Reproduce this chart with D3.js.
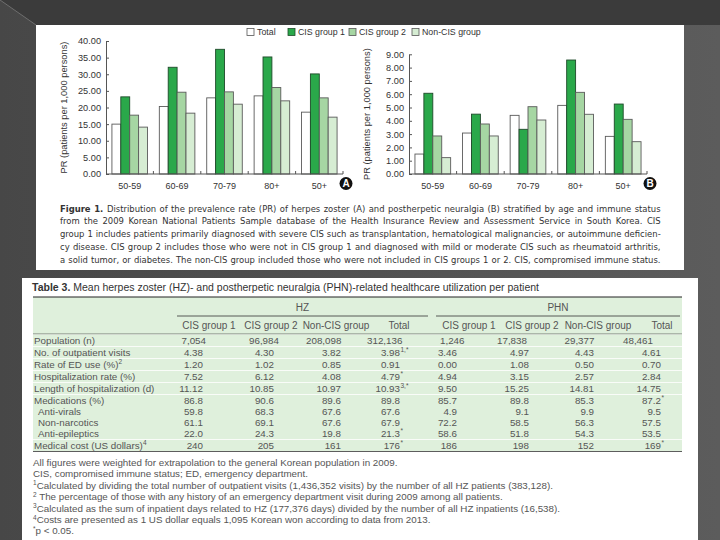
<!DOCTYPE html>
<html><head><meta charset="utf-8">
<script src="https://cdn.jsdelivr.net/npm/d3@7"></script>
<style>body{margin:0;background:#4a4a4a;} svg{display:block}</style>
</head><body>
<svg id="c" width="720" height="540"></svg>
<script>
// ---------- DATA ----------
const ageGroups = ["50-59", "60-69", "70-79", "80+", "50+"];
const seriesNames = ["Total", "CIS group 1", "CIS group 2", "Non-CIS group"];
const seriesColors = ["#ffffff", "#2aa84a", "#a6d6a3", "#d6edd3"];
// Panel A: herpes zoster PR
const hzTotal  = [15.0, 20.3, 22.9, 23.5, 18.6];
const hzCIS1   = [23.2, 32.1, 37.5, 35.2, 30.1];
const hzCIS2   = [17.7, 24.6, 24.7, 26.0, 22.9];
const hzNonCIS = [14.1, 18.3, 21.0, 22.0, 17.1];
// Panel B: postherpetic neuralgia PR
const phnTotal  = [1.50, 3.08, 4.41, 5.16, 2.83];
const phnCIS1   = [6.07, 4.50, 3.36, 8.57, 5.26];
const phnCIS2   = [2.86, 3.76, 5.06, 6.14, 4.11];
const phnNonCIS = [1.23, 2.86, 4.06, 4.49, 2.43];
const hzTicks  = [0, 5, 10, 15, 20, 25, 30, 35, 40];
const phnTicks = [0, 1, 2, 3, 4, 5, 6, 7, 8, 9];
const yLabel = "PR (patients per 1,000 persons)";

const captionLines = [
  "Distribution of the prevalence rate (PR) of herpes zoster (A) and postherpetic neuralgia (B) stratified by age and immune status",
  "from the 2009 Korean National Patients Sample database of the Health Insurance Review and Assessment Service in South Korea. CIS",
  "group 1 includes patients primarily diagnosed with severe CIS such as transplantation, hematological malignancies, or autoimmune deficien-",
  "cy disease. CIS group 2 includes those who were not in CIS group 1 and diagnosed with mild or moderate CIS such as rheumatoid arthritis,",
  "a solid tumor, or diabetes. The non-CIS group included those who were not included in CIS groups 1 or 2. CIS, compromised immune status."
];

// Table 3
const tableGroups = ["HZ", "PHN"];
const tableCols = ["CIS group 1", "CIS group 2", "Non-CIS group", "Total", "CIS group 1", "CIS group 2", "Non-CIS group", "Total"];
const rowLabels = ["Population (n)", "No. of outpatient visits", "Rate of ED use (%)", "Hospitalization rate (%)",
  "Length of hospitalization (d)", "Medications (%)", "Anti-virals", "Non-narcotics", "Anti-epileptics", "Medical cost (US dollars)"];
const rowLabelSup = ["", "", "2", "", "", "", "", "", "", "4"];
const rowIndent = [0, 0, 0, 0, 0, 0, 1, 1, 1, 0];
const rowPopulation   = ["7,054", "96,984", "208,098", "312,136", "1,246", "17,838", "29,377", "48,461"];
const rowOutpatient   = ["4.38", "4.30", "3.82", "3.98", "3.46", "4.97", "4.43", "4.61"];
const rowED           = ["1.20", "1.02", "0.85", "0.91", "0.00", "1.08", "0.50", "0.70"];
const rowHosp         = ["7.52", "6.12", "4.08", "4.79", "4.94", "3.15", "2.57", "2.84"];
const rowLength       = ["11.12", "10.85", "10.97", "10.93", "9.50", "15.25", "14.81", "14.75"];
const rowMedications  = ["86.8", "90.6", "89.6", "89.8", "85.7", "89.8", "85.3", "87.2"];
const rowAntivirals   = ["59.8", "68.3", "67.6", "67.6", "4.9", "9.1", "9.9", "9.5"];
const rowNonnarcotics = ["61.1", "69.1", "67.6", "67.9", "72.2", "58.5", "56.3", "57.5"];
const rowAntiepileptic= ["22.0", "24.3", "19.8", "21.3", "58.6", "51.8", "54.3", "53.5"];
const rowCost         = ["240", "205", "161", "176", "186", "198", "152", "169"];
const cellSup = { "1,3": "1,*", "3,3": "*", "4,3": "3,*", "5,7": "*", "8,3": "*", "9,3": "*", "9,7": "*" };
const footnotes = [
  ["", "All figures were weighted for extrapolation to the general Korean population in 2009."],
  ["", "CIS, compromised immune status; ED, emergency department."],
  ["1", "Calculated by dividing the total number of outpatient visits (1,436,352 visits) by the number of all HZ patients (383,128)."],
  ["2", " The percentage of those with any history of an emergency department visit during 2009 among all patients."],
  ["3", "Calculated as the sum of inpatient days related to HZ (177,376 days) divided by the number of all HZ inpatients (16,538)."],
  ["4", "Costs are presented as 1 US dollar equals 1,095 Korean won according to data from 2013."],
  ["*", "p < 0.05."]
];

// ---------- DRAW ----------
const svg = d3.select("#c");
const FONT = "'Liberation Sans', Arial, Helvetica, sans-serif";
const CFONT = "'Liberation Sans Narrow', 'DejaVu Sans Condensed', 'Liberation Sans', Arial, sans-serif";

// slide background
const defs = svg.append("defs");
const bg = defs.append("linearGradient").attr("id", "bg").attr("x1", 0).attr("x2", 1).attr("y1", 0).attr("y2", 0);
bg.append("stop").attr("offset", 0).attr("stop-color", "#474747");
bg.append("stop").attr("offset", 1).attr("stop-color", "#5c5c5c");
svg.append("rect").attr("width", 720).attr("height", 540).attr("fill", "url(#bg)");
svg.append("path").attr("d", "M0,0 L720,0 L720,25 L36,25 Z").attr("fill", "#3b3b3b");
svg.append("line").attr("x1", 0).attr("y1", 0).attr("x2", 36).attr("y2", 25).attr("stroke", "#6e6e6e").attr("stroke-width", 1);

// panels
svg.append("rect").attr("x", 36).attr("y", 25).attr("width", 648).attr("height", 245).attr("fill", "#fff");
svg.append("rect").attr("x", 22).attr("y", 278).attr("width", 676).attr("height", 262).attr("fill", "#fff");

function drawPanel(opts) {
  const g = svg.append("g");
  const x = d3.scaleBand().domain(ageGroups).range([opts.x0, opts.x1]).paddingInner(0.25).paddingOuter(0.125);
  const xi = d3.scaleBand().domain(seriesNames).range([0, x.bandwidth()]);
  const y = d3.scaleLinear().domain([0, opts.max]).range([174, opts.yTop]);
  const series = opts.series;
  seriesNames.forEach((s, si) => {
    g.selectAll(null).data(series[si]).join("rect")
      .attr("x", (d, i) => x(ageGroups[i]) + xi(s))
      .attr("y", d => y(d))
      .attr("width", xi.bandwidth())
      .attr("height", d => y(0) - y(d))
      .attr("fill", seriesColors[si])
      .attr("stroke", si === 1 ? "#1f4a2a" : "#5a5a5a")
      .attr("stroke-width", 0.9);
  });
  const ay = g.append("g").attr("transform", `translate(${opts.x0},0)`)
    .call(d3.axisLeft(y).tickValues(opts.ticks).tickFormat(d3.format(".2f")).tickSizeInner(-3).tickSizeOuter(0).tickPadding(5));
  ay.select(".domain").attr("stroke", "#555");
  ay.selectAll(".tick line").attr("stroke", "#555");
  ay.selectAll("text").attr("font-family", FONT).attr("font-size", 9.2).attr("fill", "#333");
  g.append("line").attr("x1", opts.x0).attr("x2", opts.x1).attr("y1", y(0)).attr("y2", y(0)).attr("stroke", "#555");
  ageGroups.forEach((a, i) => {
    const tx = x(a) + x.bandwidth() + x.step() * x.paddingInner() / 2;
    g.append("line").attr("x1", tx).attr("x2", tx).attr("y1", y(0)).attr("y2", y(0) - 3).attr("stroke", "#555");
    g.append("text").attr("x", x(a) + x.bandwidth() / 2).attr("y", 189).attr("text-anchor", "middle")
      .attr("font-family", FONT).attr("font-size", 9).attr("fill", "#333").text(a);
  });
  g.append("text").attr("transform", `translate(${opts.labelX},${(y(0) + y(opts.max)) / 2}) rotate(-90)`)
    .attr("text-anchor", "middle").attr("font-family", FONT).attr("font-size", 9.3).attr("fill", "#333").text(yLabel);
  g.append("circle").attr("cx", opts.x1 + 3).attr("cy", 183.5).attr("r", 6.5).attr("fill", "#111");
  g.append("text").attr("x", opts.x1 + 3).attr("y", 187.3).attr("text-anchor", "middle").attr("font-family", FONT)
    .attr("font-weight", "bold").attr("font-size", 10).attr("fill", "#fff").text(opts.letter);
}
drawPanel({ x0: 106, x1: 343, yTop: 41, max: 40, ticks: hzTicks, series: [hzTotal, hzCIS1, hzCIS2, hzNonCIS], labelX: 67, letter: "A" });
drawPanel({ x0: 409, x1: 647, yTop: 54.3, max: 9, ticks: phnTicks, series: [phnTotal, phnCIS1, phnCIS2, phnNonCIS], labelX: 370, letter: "B" });

// legend
const legX = [247, 288, 349, 412];
seriesNames.forEach((s, i) => {
  svg.append("rect").attr("x", legX[i]).attr("y", 28.5).attr("width", 7).attr("height", 7)
    .attr("fill", seriesColors[i]).attr("stroke", i === 1 ? "#1f4a2a" : "#555").attr("stroke-width", 0.8);
  svg.append("text").attr("x", legX[i] + 10).attr("y", 35.3).attr("font-family", FONT).attr("font-size", 8.8)
    .attr("fill", "#333").text(s);
});

// caption: one common font size, each line justified by word-spacing
const capW = 601;
const capTexts = captionLines.map((ln, i) => {
  const t = svg.append("text").attr("x", 60).attr("y", 211.5 + i * 12.8).attr("font-family", CFONT).attr("font-size", 11)
    .attr("fill", "#333");
  if (i === 0) t.append("tspan").attr("font-weight", "bold").text("Figure 1. ");
  t.append("tspan").text(ln);
  return t;
});
const maxW = d3.max(capTexts, t => t.node().getComputedTextLength());
const capFs = maxW > capW ? 11 * capW / maxW - 0.05 : 11;
capTexts.forEach((t, i) => {
  t.attr("font-size", capFs);
  const w = t.node().getComputedTextLength();
  const full = (i === 0 ? "Figure 1. " : "") + captionLines[i];
  const spaces = (full.match(/ /g) || []).length;
  if (spaces && w < capW) t.attr("word-spacing", ((capW - w) / spaces) - 0.02);
});

// table
const TF = FONT;
const tcol = "#555";
svg.append("text").attr("x", 32).attr("y", 291).attr("font-family", TF).attr("font-size", 10.5).attr("fill", "#333")
  .call(t => { t.append("tspan").attr("font-weight", "bold").text("Table 3. "); t.append("tspan").text("Mean herpes zoster (HZ)- and postherpetic neuralgia (PHN)-related healthcare utilization per patient"); });
const tL = 33, tR = 682;
const green = "#dff0dc";
svg.append("rect").attr("x", tL).attr("y", 297).attr("width", tR - tL).attr("height", 37).attr("fill", green);
svg.append("line").attr("x1", tL).attr("x2", tR).attr("y1", 297).attr("y2", 297).attr("stroke", "#222").attr("stroke-width", 1);
const groupSpan = [[177, 428], [436, 680]];
tableGroups.forEach((gname, i) => {
  const [a, b] = groupSpan[i];
  svg.append("text").attr("x", (a + b) / 2).attr("y", 311).attr("text-anchor", "middle").attr("font-family", TF)
    .attr("font-size", 10).attr("fill", tcol).text(gname);
  svg.append("line").attr("x1", a).attr("x2", b).attr("y1", 316).attr("y2", 316).attr("stroke", "#333").attr("stroke-width", 0.8);
});
const colCenter = [209, 271, 336, 399, 469, 532, 598, 662];
const colRight = [203, 274, 341, 400, 457, 529, 594, 661];
const colLeft = [181.5, 249, 306, 367, 440, 497, 564.5, 623];
tableCols.forEach((c, i) => {
  svg.append("text").attr("x", colCenter[i]).attr("y", 329).attr("text-anchor", "middle").attr("font-family", TF)
    .attr("font-size", 10).attr("fill", tcol).text(c);
});
svg.append("line").attr("x1", tL).attr("x2", tR).attr("y1", 334).attr("y2", 334).attr("stroke", "#333").attr("stroke-width", 0.6);

const rows = [rowPopulation, rowOutpatient, rowED, rowHosp, rowLength, rowMedications, rowAntivirals, rowNonnarcotics, rowAntiepileptic, rowCost];
const rowY = [340, 352, 364, 376, 388, 400, 411, 422, 433, 445];
const rowBands = [[334.5, 346], [346.8, 358], [358.8, 370], [370.8, 382], [382.8, 394], [394.8, 439], [439.8, 451]];
rowBands.forEach(([a, b]) => svg.append("rect").attr("x", tL).attr("y", a).attr("width", tR - tL).attr("height", b - a).attr("fill", green));
svg.append("line").attr("x1", tL).attr("x2", tR).attr("y1", 451.5).attr("y2", 451.5).attr("stroke", "#333").attr("stroke-width", 0.8);

rows.forEach((vals, r) => {
  const yy = rowY[r] + 3.5;
  const lt = svg.append("text").attr("x", 34 + rowIndent[r] * 4).attr("y", yy).attr("font-family", TF).attr("font-size", 9.8).attr("fill", tcol).text(rowLabels[r]);
  if (rowLabelSup[r]) lt.append("tspan").attr("dy", -3.5).attr("font-size", 6.5).text(rowLabelSup[r]);
  vals.forEach((v, c) => {
    if (r === 0) {
      svg.append("text").attr("x", colLeft[c]).attr("y", yy).attr("font-family", TF).attr("font-size", 9.8).attr("fill", tcol).text(v);
    } else {
      svg.append("text").attr("x", colRight[c]).attr("y", yy).attr("text-anchor", "end").attr("font-family", TF).attr("font-size", 9.8).attr("fill", tcol).text(v);
      const sup = cellSup[r + "," + c];
      if (sup) svg.append("text").attr("x", colRight[c] + 0.5).attr("y", yy - 3.5).attr("font-family", TF).attr("font-size", 6.5).attr("fill", tcol).text(sup);
    }
  });
});

footnotes.forEach(([sup, txt], i) => {
  const t = svg.append("text").attr("x", 33).attr("y", 466 + i * 11.4).attr("font-family", TF).attr("font-size", 9.8).attr("fill", tcol);
  if (sup) t.append("tspan").attr("font-size", 6.5).attr("dy", -3.5).text(sup);
  t.append("tspan").attr("dy", sup ? 3.5 : 0).text(txt);
});
</script>
</body></html>
